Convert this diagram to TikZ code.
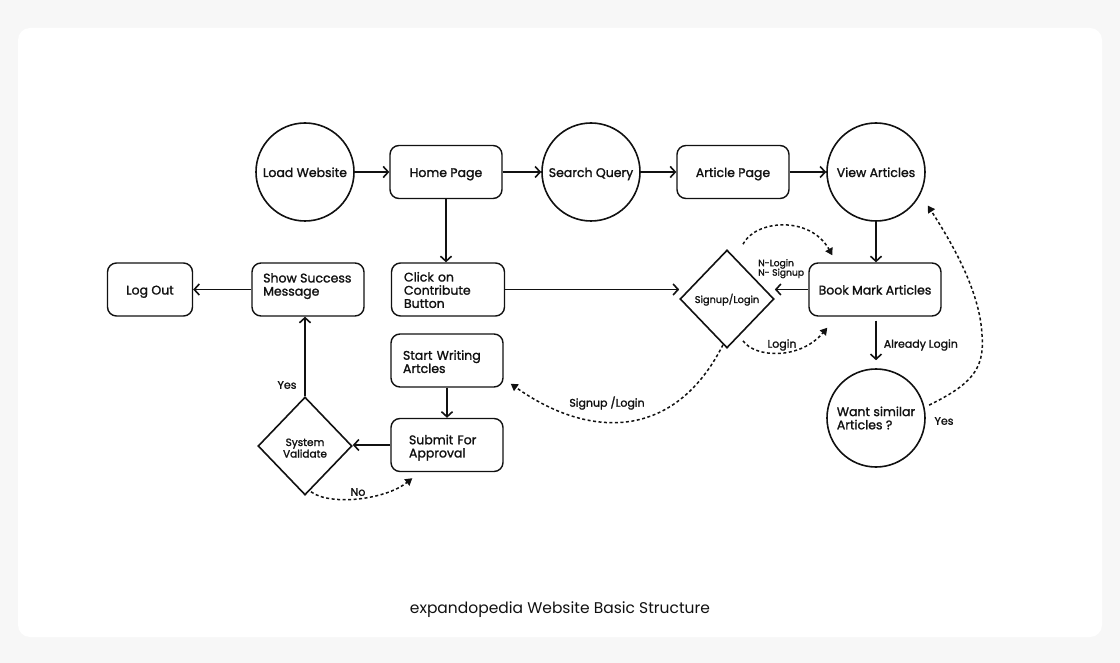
\documentclass[tikz,border=0pt]{standalone}
\usepackage{fontspec}
\setmainfont{Poppins}
\newfontfamily\medfont{Poppins}[FakeBold=1.4]
\usetikzlibrary{arrows.meta,shapes.geometric}
\definecolor{bgout}{HTML}{F7F7F7}
\definecolor{ink}{HTML}{111111}
\begin{document}
\begin{tikzpicture}[x=1pt,y=-1pt,
 every node/.style={font=\medfont\fontsize{12.5}{13.2}\selectfont, text=ink},
 circ/.style={draw=ink,circle,line width=1.6pt,minimum size=98pt,inner sep=0pt},
 box/.style={draw=ink,rounded corners=9pt,line width=1.4pt,minimum width=112pt,minimum height=53pt,inner sep=0pt},
 dia/.style={draw=ink,diamond,line width=1.6pt,minimum width=94pt,minimum height=98pt,inner sep=0pt},
 one/.style={text height=10pt, text depth=0pt},
 two/.style={text height=8pt, text depth=9.5pt},
 conn/.style={draw=ink,line width=1.6pt,-{Straight Barb[length=5pt,width=11pt,line width=1.6pt]}},
 dconn/.style={draw=ink,line width=1.5pt,dash pattern=on 3pt off 2.5pt,-{Triangle[length=7pt,width=8pt]}},
 lab/.style={font=\medfont\fontsize{11}{12}\selectfont, inner sep=0pt}
]
\fill[bgout] (0,0) rectangle (1120,663);
\fill[white, rounded corners=12pt] (18,28) rectangle (1102,637);
\useasboundingbox (0,0) rectangle (1120,663);

% nodes
\node[circ, one] (load) at (305,172) {Load Website};
\node[box, one] (home) at (446,172) {Home Page};
\node[circ, one] (search) at (591,172) {Search Query};
\node[box, one] (article) at (733,172) {Article Page};
\node[circ, one] (view) at (876,172) {View Articles};
\node[box, one, minimum width=132pt] (book) at (875,289.5) {Book Mark Articles};
\node[dia, font=\medfont\fontsize{9.8}{11}\selectfont, text height=8pt, text depth=0pt] (sign) at (727,299) {Signup/Login};
\node[box, minimum width=113pt, text width=88pt, align=left, text height=8pt, text depth=24pt] (click) at (448,289.5) {Click on\\Contribute\\Button};
\node[box] (show) at (308,289.5) {};
\node[anchor=north west, align=left, inner sep=0pt] (showtxt) at (263,273) {Show Success\\Message};
\node[box, one, minimum width=85pt] (logout) at (150,289.5) {Log Out};
\node[box, two, text width=88pt, align=left] (start) at (447,360.5) {Start Writing\\Artcles};
\node[box, two, text width=76pt, align=left] (submit) at (447,445) {Submit For\\Approval};
\node[dia, font=\medfont\fontsize{10.5}{11.5}\selectfont, align=center, text width=60pt, text height=8pt, text depth=8pt] (valid) at (305,446) {System\\Validate};
\node[circ, align=left] (want) at (876,418) {Want similar\\Articles ?};

% solid connectors
\draw[conn] (load) -- (home);
\draw[conn] (home) -- (search);
\draw[conn] (search) -- (article);
\draw[conn] (article) -- (view);
\draw[conn] (view.south) -- (view.south |- book.north);
\draw[conn] (home.south) -- (home.south |- click.north);
\draw[conn] (click.east) -- (click.east -| sign.west);
\draw[conn] (book.west) -- (book.west -| sign.east);
\draw[conn, shorten <=4pt, shorten >=8pt] (book.south -| want.north) -- (want.north)
  node[lab, pos=0.55, anchor=west, xshift=7pt] (already) {Already Login};
\draw[conn] (show.west) -- (logout.east);
\draw[conn] (start.south) -- (start.south |- submit.north);
\draw[conn] (submit.west) -- (submit.west -| valid.east);
\draw[conn] (valid.north) -- (valid.north |- show.south);
\node[lab] (yes1) at (287,385) {Yes};

% dashed connectors
\draw[dconn] ([xshift=6pt,yshift=4pt]valid.south) .. controls (330,506) and (385,500) .. ([xshift=22pt,yshift=-6pt]submit.south west);
\node[lab] (no) at (358,492) {No};

\draw[dconn] ([xshift=-4pt,yshift=4pt]sign.south) .. controls (675,440) and (590,440) .. ([xshift=7pt,yshift=4pt]start.south east);
\node[lab] (sl) at (607,403) {Signup /Login};

\draw[dconn] ([xshift=16pt,yshift=8pt]sign.south) .. controls (755,358) and (800,360) .. ([xshift=19pt,yshift=-11pt]book.south west);
\node[lab] (login) at (782,345) {Login};

\draw[dconn] ([xshift=16pt,yshift=5pt]sign.north) .. controls (755,220) and (810,215) .. ([xshift=24pt,yshift=7pt]book.north west);
\node[lab, font=\medfont\fontsize{9.2}{9.5}\selectfont, align=left, anchor=north west] (nl) at (758,259) {N-Login\\N- Signup};

\draw[dconn] ([xshift=5pt]want.15) .. controls (970,385) and (985,370) .. (982,335) .. controls (980,290) and (950,240) .. ([xshift=11pt,yshift=-5pt]view.-35);
\node[lab] (yes2) at (944,421) {Yes};

\node[font=\fontsize{15.5}{18}\selectfont] (cap) at (560,609.5) {expandopedia Website Basic Structure};
\end{tikzpicture}
\end{document}
